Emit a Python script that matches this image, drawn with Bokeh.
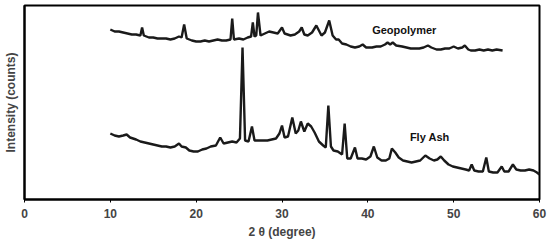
from bokeh.plotting import figure
from bokeh.models import Range1d, FixedTicker, Label
from bokeh.embed import file_html
from bokeh.resources import INLINE

# 2-theta (degree) and intensity (arbitrary counts)
geo_theta = [10.0,10.5,11.0,11.5,12.0,12.5,13.0,13.5,13.7,13.9,
             14.5,15.0,15.5,16.0,16.5,17.0,17.5,18.0,18.3,18.6,
             18.9,19.5,20.0,20.5,21.0,21.5,22.0,22.5,23.0,23.5,
             24.0,24.2,24.4,25.0,25.5,26.0,26.4,26.6,26.8,27.0,
             27.2,27.5,28.0,28.5,29.0,29.5,30.0,30.3,31.0,31.5,
             32.0,32.3,32.6,33.0,33.5,34.0,34.3,34.6,35.0,35.5,
             35.9,36.3,36.6,37.0,37.5,38.0,38.5,39.0,39.4,39.8,
             40.5,41.0,41.5,42.0,42.3,42.6,42.9,43.3,44.0,44.5,
             45.0,45.5,46.0,46.5,47.0,47.4,48.0,48.5,49.0,49.5,
             50.0,50.5,51.0,51.3,51.7,52.0,52.5,53.0,53.5,54.0,
             54.5,55.0,55.7]
geo_counts = [171,169,169,168,167,166,166,165,173,165,
              163,163,162,162,162,161,162,164,163,176,
              162,160,159,159,160,159,160,161,160,160,
              161,182,161,162,161,163,164,178,164,165,
              188,165,167,169,168,167,173,167,165,166,
              169,173,166,165,168,175,170,165,168,180,
              165,161,161,157,156,154,153,154,156,153,
              153,154,154,156,158,156,158,155,154,153,
              152,152,152,153,155,153,151,151,152,152,
              154,152,153,155,151,150,150,151,150,151,
              150,151,150]

ash_theta = [10.0,10.5,11.0,11.5,11.9,12.3,13.0,13.5,14.0,14.5,
             15.0,15.5,16.0,16.5,17.0,17.5,18.0,18.3,18.8,19.2,
             19.7,20.2,20.7,21.2,21.7,22.3,22.8,23.2,23.7,24.2,
             24.7,25.1,25.4,25.7,26.1,26.5,26.8,27.3,27.8,28.3,
             28.8,29.3,29.7,30.0,30.3,30.7,31.2,31.6,31.9,32.2,
             32.6,33.0,33.4,33.8,34.3,34.8,35.1,35.4,35.7,36.0,
             36.5,37.0,37.3,37.6,38.0,38.5,38.8,39.3,39.8,40.3,
             40.7,41.1,41.6,42.1,42.5,42.8,43.2,43.6,44.1,44.6,
             45.1,45.6,46.1,46.7,47.2,47.7,48.1,48.5,48.9,49.4,
             49.9,50.4,50.9,51.4,51.8,52.1,52.4,52.9,53.4,53.8,
             54.1,54.6,55.1,55.6,55.9,56.4,56.9,57.3,57.8,58.3,
             58.8,59.3,59.7,60.0]
ash_counts = [67,65,64,65,66,63,61,59,58,57,
              56,55,54,54,53,54,57,54,53,50,
              49,49,51,52,54,55,63,57,58,59,
              58,62,153,60,59,74,60,60,60,60,
              61,62,67,75,63,64,83,67,70,79,
              69,77,74,68,59,55,53,95,54,50,
              49,46,77,42,42,53,42,42,41,44,
              54,43,40,40,42,52,48,43,40,39,
              38,39,40,45,42,40,41,44,40,36,
              34,33,32,31,30,36,30,29,29,43,
              29,28,28,34,29,29,36,31,30,30,
              31,30,28,26]

x_ticks = [0, 10, 20, 30, 40, 50, 60]
series_names = ["Geopolymer", "Fly Ash"]

FONT = "Liberation Sans"

p = figure(frame_width=515, frame_height=194, output_backend="svg", toolbar_location=None,
           x_range=Range1d(0, 60), y_range=Range1d(1, 195),
           min_border_top=5, min_border_right=10, min_border_left=24, min_border_bottom=0)
p.grid.visible = False
p.background_fill_color = "white"
p.border_fill_color = "white"
p.outline_line_color = "black"
p.outline_line_width = 2

p.line(geo_theta, geo_counts, line_color="#1a1a1a", line_width=2.4)
p.line(ash_theta, ash_counts, line_color="#1a1a1a", line_width=2.4)

p.add_layout(Label(x=40.5, y=171, text=series_names[0], text_font=FONT,
                   text_font_style="bold", text_font_size="11px",
                   text_baseline="middle", text_color="#111111"))
p.add_layout(Label(x=44.9, y=64, text=series_names[1], text_font=FONT,
                   text_font_style="bold", text_font_size="11px",
                   text_baseline="middle", text_color="#111111"))

xa = p.xaxis[0]
xa.ticker = FixedTicker(ticks=x_ticks)
xa.minor_tick_line_color = None
xa.major_tick_in = 0
xa.major_tick_out = 3
xa.axis_line_width = 2
xa.major_tick_line_width = 1
xa.major_label_text_font = FONT
xa.major_label_text_font_style = "bold"
xa.major_label_text_font_size = "12px"
xa.major_label_standoff = 6
xa.axis_label = "2 θ (degree)"
xa.axis_label_text_font = FONT
xa.axis_label_text_font_style = "bold"
xa.axis_label_text_font_size = "12px"
xa.axis_label_standoff = 4

ya = p.yaxis[0]
ya.ticker = FixedTicker(ticks=[])
ya.minor_tick_line_color = None
ya.major_tick_line_color = None
ya.axis_line_width = 2
ya.axis_label = "Intensity (counts)"
ya.axis_label_text_font = FONT
ya.axis_label_text_font_style = "bold"
ya.axis_label_text_font_size = "12px"
ya.axis_label_standoff = 7

open("out.html", "w").write(file_html(p, INLINE))
